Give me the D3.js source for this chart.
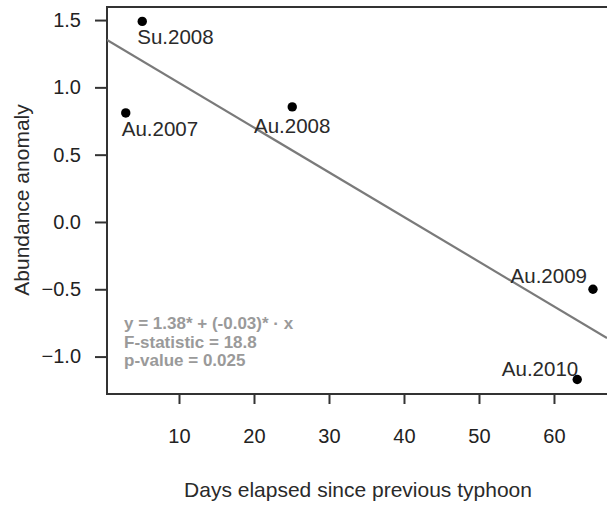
<!DOCTYPE html>
<html><head><meta charset="utf-8">
<script src="https://cdn.jsdelivr.net/npm/d3@7"></script>
<style>
body{margin:0;background:#fff;}
svg{display:block;font-family:"Liberation Sans",Arial,sans-serif;}
</style></head>
<body>
<svg id="c" width="607" height="505"></svg>
<script>
const labels = ["Su.2008","Au.2007","Au.2008","Au.2009","Au.2010"];
const days = [5.1, 2.9, 25.1, 65.2, 63.1];
const anomaly = [1.49, 0.81, 0.855, -0.50, -1.17];
const xTicks = [10,20,30,40,50,60];
const yTicks = [1.5,1.0,0.5,0.0,-0.5,-1.0];
const fitIntercept = 1.365;
const fitSlope = -0.0332;
const statLines = ["y = 1.38* + (-0.03)* \u00b7 x","F-statistic = 18.8","p-value = 0.025"];

const svg = d3.select("#c");
const x = d3.scaleLinear().domain([0.4, 67.07]).range([107, 607]);
const y = d3.scaleLinear().domain([-1.278, 1.597]).range([394, 7]);

// frame
svg.append("path").attr("d", `M607,${y.range()[1]}H${x.range()[0]}V${y.range()[0]}H607`)
  .attr("fill","none").attr("stroke","#333").attr("stroke-width",2);

const xa = svg.append("g").attr("transform","translate(0,394)")
  .call(d3.axisBottom(x).tickValues(xTicks).tickFormat(d3.format("d")).tickSize(10).tickPadding(25));
xa.select(".domain").remove();
const ya = svg.append("g").attr("transform","translate(107,0)")
  .call(d3.axisLeft(y).tickValues(yTicks).tickFormat(d3.format(".1f")).tickSize(12).tickPadding(14));
ya.select(".domain").remove();
svg.selectAll(".tick line").attr("stroke","#333").attr("stroke-width",2);
svg.selectAll(".tick text").attr("font-size",20).attr("fill","#222").attr("font-family","Liberation Sans, Arial, sans-serif");

// regression line
svg.append("clipPath").attr("id","pc").append("rect")
  .attr("x",107).attr("y",7).attr("width",500).attr("height",387);
const xs = x.domain();
svg.append("line").attr("clip-path","url(#pc)")
  .attr("x1",x(xs[0])).attr("y1",y(fitIntercept+fitSlope*xs[0]))
  .attr("x2",x(xs[1])).attr("y2",y(fitIntercept+fitSlope*xs[1]))
  .attr("stroke","#7a7a7a").attr("stroke-width",2.2);

// points
const data = labels.map((l,i)=>({l, d:days[i], a:anomaly[i]}));
svg.selectAll("circle.pt").data(data).enter().append("circle")
  .attr("cx",d=>x(d.d)).attr("cy",d=>y(d.a)).attr("r",4.7).attr("fill","#000");

const place = {
  "Su.2008":{anchor:"start",dx:-5,dy:23},
  "Au.2007":{anchor:"start",dx:-4,dy:23},
  "Au.2008":{anchor:"middle",dx:0,dy:26},
  "Au.2009":{anchor:"end",dx:-6,dy:-6},
  "Au.2010":{anchor:"end",dx:1,dy:-3}
};
svg.selectAll("text.lab").data(data).enter().append("text")
  .attr("x",d=>x(d.d)+place[d.l].dx).attr("y",d=>y(d.a)+place[d.l].dy)
  .attr("text-anchor",d=>place[d.l].anchor).attr("font-size",20.5).attr("fill","#2a2a2a")
  .text(d=>d.l);

// stats
svg.selectAll("text.st").data(statLines).enter().append("text")
  .attr("x",124).attr("y",(d,i)=>329+i*18.5)
  .attr("font-size",17).attr("font-weight","bold").attr("fill","#9a9a9a")
  .text(d=>d);

// axis titles
svg.append("text").attr("x",358).attr("y",497).attr("text-anchor","middle")
  .attr("font-size",21).attr("fill","#2a2a2a").text("Days elapsed since previous typhoon");
svg.append("text").attr("transform","translate(29,200) rotate(-90)").attr("text-anchor","middle")
  .attr("font-size",21).attr("fill","#2a2a2a").text("Abundance anomaly");
</script>
</body></html>
